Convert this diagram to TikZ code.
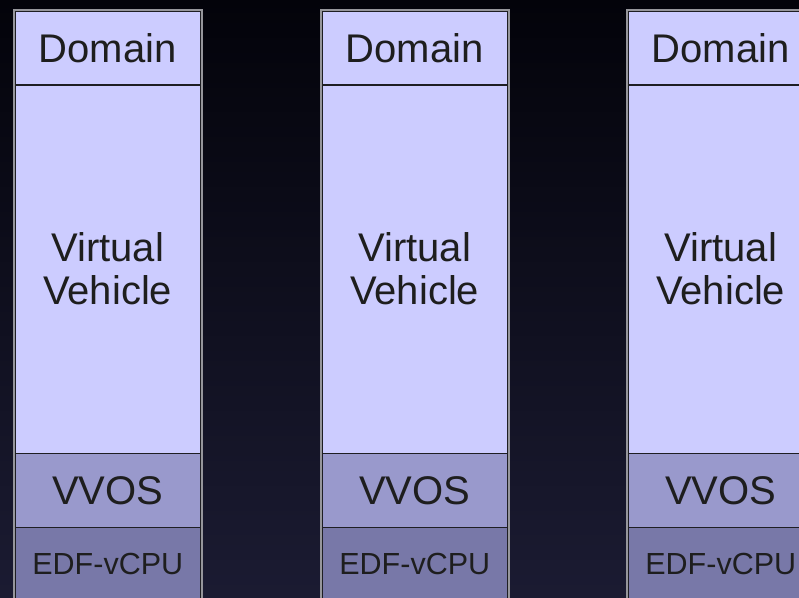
\documentclass[tikz,border=0pt]{standalone}
\usepackage{fontspec}
\setmainfont{Liberation Sans}
\begin{document}
\begin{tikzpicture}[x=1pt,y=-1pt,
  layer/.style={rectangle, draw=divcol, line width=1.5pt, minimum width=186pt, anchor=north west, inner sep=0pt, text=textcol},
  lightbox/.style={layer, fill=lightcol},
  osbox/.style={layer, fill=oscol},
  cpubox/.style={layer, fill=cpucol},
  bigtext/.style={font=\fontsize{40}{43}\selectfont, align=center},
  smalltext/.style={font=\fontsize{30.5}{33}\selectfont},
  frame/.style={draw=framecol, line width=2pt}
]
\definecolor{lightcol}{RGB}{204,204,255}
\definecolor{oscol}{RGB}{153,153,204}
\definecolor{cpucol}{RGB}{120,120,168}
\definecolor{divcol}{RGB}{30,30,35}
\definecolor{framecol}{RGB}{150,150,155}
\definecolor{textcol}{RGB}{30,30,30}
\definecolor{bgtop}{RGB}{3,3,10}
\definecolor{bgmid}{RGB}{12,12,36}
\definecolor{bgbot}{RGB}{27,27,50}
\useasboundingbox (0,0) rectangle (799,597);
\clip (0,0) rectangle (799,597);
\shade[top color=bgtop, middle color=bgmid, bottom color=bgbot] (0,0) rectangle (799,597);
\foreach \i/\x in {1/14, 2/321, 3/627} {
  \node[lightbox, bigtext, minimum height=74pt] (dom\i) at (\x,10) {Domain};
  \node[lightbox, bigtext, minimum height=368.7pt] (vv\i) at (\x,84) {Virtual\\Vehicle};
  \node[osbox, bigtext, minimum height=74pt] (os\i) at (\x,452.7) {VVOS};
  \node[cpubox, smalltext, minimum height=74pt] (cpu\i) at (\x,526.7) {EDF-vCPU};
  \draw[frame] (dom\i.north west) rectangle (cpu\i.south east);
}
\end{tikzpicture}
\end{document}
